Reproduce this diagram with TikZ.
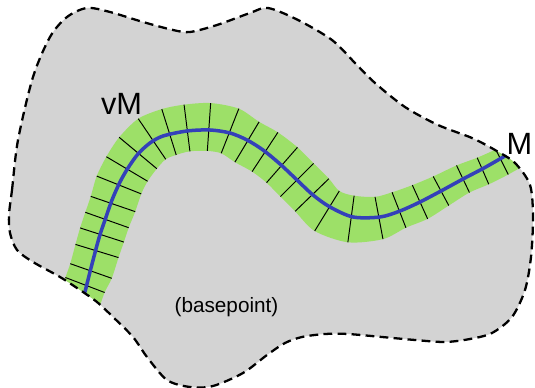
\documentclass[tikz,border=0pt]{standalone}
\usepackage{fontspec}
\setmainfont{Liberation Sans}
\usetikzlibrary{calc}
\definecolor{regiongray}{RGB}{211,211,211}
\definecolor{bandgreen}{RGB}{157,224,104}
\definecolor{curveblue}{RGB}{52,64,185}
% closed outline of the region
\def\regionoutline{plot[smooth cycle] coordinates {
  (9,215) (12,190) (18,140) (33,77) (50,37) (67,17) (87,8) (110,12)
  (143,22) (173,30) (190,32) (217,25) (250,13) (268,8) (298,20) (332,40)
  (355,63) (375,83) (405,107) (438,125) (472,138) (495,150) (515,163)
  (530,185) (533,217) (531,257) (525,290) (512,317) (492,333) (470,339)
  (445,342) (415,340) (382,337) (348,334) (325,334) (302,337) (285,343)
  (267,355) (243,373) (213,386) (190,387) (167,380) (147,357) (133,337)
  (113,317) (97,302) (80,290) (60,277) (33,262) (17,250) (10,233)}}
\begin{document}
\begin{tikzpicture}[x=0.02cm,y=-0.02cm,
  border/.style={draw=black,line width=1.3pt,dash pattern=on 5pt off 3pt},
  band/.style={fill=bandgreen},
  fibre/.style={draw=black,line width=0.55pt},
  curve/.style={draw=curveblue,line width=2pt,line cap=round},
  tag/.style={inner sep=0pt,anchor=base,font=\fontsize{17.5}{20}\selectfont},
  smalltag/.style={inner sep=0pt,anchor=base,font=\fontsize{11.8}{14}\selectfont}]
\useasboundingbox (0,0) rectangle (535,388);

% centres of the fibres (first two and last two only extend the band)
\foreach \x/\y [count=\i] in {72/325, 78/305, 85/285, 91/271, 97/251, 102/235,
    107/220, 113/204, 119/185, 127/169, 138/153, 152/139, 169/132, 187/128,
    209/127, 230/131, 247/142, 265/152, 282/165, 297/180, 312/195, 327/211,
    351/219, 379/218, 399/210, 420/202, 441/191, 463/179, 483/171, 502/162,
    525/150, 545/139}
  \coordinate (c\i) at (\x,\y);

% fibre end points, perpendicular to the band, with half widths
\foreach \h [count=\i from 2, evaluate=\i as \p using int(\i-1),
    evaluate=\i as \n using int(\i+1)] in {21, 21, 22, 22.5, 23, 23, 23.5, 24,
    24, 24.5, 24.5, 24, 23.5, 24, 24, 23.5, 23.5, 23.5, 23.5, 23.5, 23.5, 23.5,
    21.5, 19, 18.5, 16.5, 15, 14.5, 14, 13} {
  \coordinate (d\i) at ($(c\i)+(c\n)-(c\p)$);
  \coordinate (l\i) at ($(c\i)!\h*0.02cm!90:(d\i)$);
  \coordinate (r\i) at ($(c\i)!\h*0.02cm!-90:(d\i)$);
}

\begin{scope}
  \clip \regionoutline;
  \fill[regiongray] (0,0) rectangle (535,388);
  % green neighbourhood band
  \fill[band] plot[smooth] coordinates {(l2) (l3) (l4) (l5) (l6) (l7) (l8)
      (l9) (l10) (l11) (l12) (l13) (l14) (l15) (l16) (l17) (l18) (l19) (l20)
      (l21) (l22) (l23) (l24) (l25) (l26) (l27) (l28) (l29) (l30) (l31)}
    -- plot[smooth] coordinates {(r31) (r30) (r29) (r28) (r27) (r26) (r25)
      (r24) (r23) (r22) (r21) (r20) (r19) (r18) (r17) (r16) (r15) (r14) (r13)
      (r12) (r11) (r10) (r9) (r8) (r7) (r6) (r5) (r4) (r3) (r2)} -- cycle;
  % fibres
  \foreach \i in {3,...,30}
    \draw[fibre] (l\i) -- (r\i);
\end{scope}

% the submanifold
\coordinate (basepoint) at (85,292);
\coordinate (mend) at (505,156);
\draw[curve] plot[smooth] coordinates {(basepoint) (91,268) (99,238) (105,220)
  (112,200) (120,182) (128,168) (138,154) (150,143) (163,136) (187,131)
  (210,130) (230,133) (247,140) (263,150) (280,164) (297,180) (313,195)
  (330,207) (353,217) (380,217) (400,211) (420,202) (441,191) (463,179)
  (484,168) (mend)};

% dashed boundary of the region
\draw[border] \regionoutline;

\node[tag] (vmlabel) at (121.5,115) {vM};
\node[tag] (mlabel) at (519.5,155) {M};
\node[smalltag] (baselabel) at (226.5,312.5) {(basepoint)};
\end{tikzpicture}
\end{document}
